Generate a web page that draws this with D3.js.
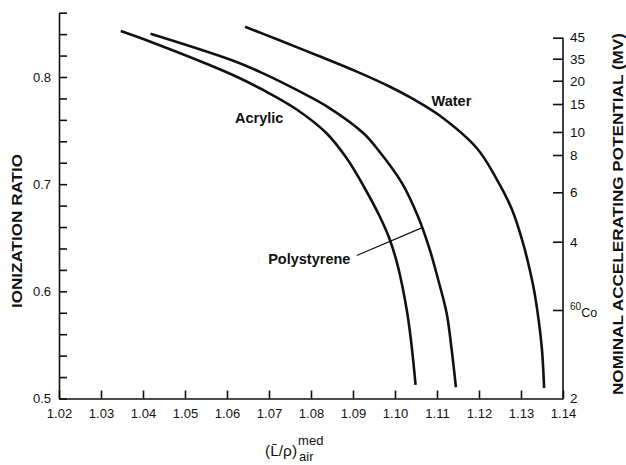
<!DOCTYPE html>
<html>
<head>
<meta charset="utf-8">
<script src="https://cdn.jsdelivr.net/npm/d3@7"></script>
<style>
  body { margin: 0; background: #fff; }
  svg { display: block; font-family: 'Liberation Sans', Arial, sans-serif; }
  .axis path, .axis line { stroke: #111; stroke-width: 1.6; }
  .axis text { fill: #111; font-size: 13px; }
  .curve { fill: none; stroke: #111; stroke-width: 2.6; }
</style>
</head>
<body>
<div class="canvas"></div>
<script>
// Curves: [stopping power ratio, ionization ratio]
const acrylic = [
  [1.0347, 0.8429], [1.0424, 0.8320], [1.0614, 0.8019], [1.0686, 0.7879],
  [1.0766, 0.7697], [1.0837, 0.7475], [1.0885, 0.7241], [1.0926, 0.6976],
  [1.0964, 0.6696], [1.0988, 0.6479], [1.1008, 0.6215], [1.1028, 0.5826],
  [1.1037, 0.5577], [1.1044, 0.5328], [1.1049, 0.5126]
]
const polystyrene = [
  [1.0418, 0.8404], [1.0615, 0.8152], [1.0686, 0.8034], [1.0766, 0.7879],
  [1.0845, 0.7708], [1.0925, 0.7475], [1.0960, 0.7319], [1.1017, 0.7008],
  [1.1055, 0.6696], [1.1083, 0.6386], [1.1103, 0.6106], [1.1123, 0.5795],
  [1.1135, 0.5453], [1.1145, 0.5105]
]
const water = [
  [1.0643, 0.8469], [1.0722, 0.8347], [1.0814, 0.8203], [1.0909, 0.8050],
  [1.0988, 0.7909], [1.1044, 0.7793], [1.1107, 0.7638], [1.1195, 0.7335],
  [1.1242, 0.7048], [1.1278, 0.6768], [1.1305, 0.6448], [1.1321, 0.6199],
  [1.1331, 0.6012], [1.1342, 0.5732], [1.1350, 0.5453], [1.1355, 0.5098]
]

// Axis ticks
const xTickValues = [1.02, 1.03, 1.04, 1.05, 1.06, 1.07, 1.08, 1.09, 1.10, 1.11, 1.12, 1.13, 1.14]
const yTickLabels = [0.5, 0.6, 0.7, 0.8]
const yMinorTicks = [0.5, 0.52, 0.54, 0.56, 0.58, 0.6, 0.62, 0.64, 0.66, 0.68, 0.7,
  0.72, 0.74, 0.76, 0.78, 0.8, 0.82, 0.84, 0.86]
// Right axis: nominal accelerating potential, placed at its ionization ratio
const potentialLabels = ['45', '35', '20', '15', '10', '8', '6', '4', '60Co', '2']
const potentialRatio = [0.8367, 0.8171, 0.7965, 0.7748, 0.7487, 0.7272, 0.6924, 0.6463, 0.5826, 0.5]

// Curve labels [text, x, ratio] and the polystyrene pointer
const curveLabels = [['Acrylic', 1.0619, 0.7573], ['Water', 1.1087, 0.7729], ['Polystyrene', 1.0698, 0.6255]]
const pointer = [[1.0909, 0.6335], [1.1062, 0.6590]]

const width = 626
const height = 465

const svg = d3.select('.canvas')
  .append('svg')
  .attr('width', width)
  .attr('height', height)

// Scales
const x = d3.scaleLinear().domain([1.02, 1.14]).range([59, 563])
const y = d3.scaleLinear().domain([0.5, 0.86]).range([398.5, 12.7])

// Left axis
const yAxisGroup = svg.append('g')
  .attr('class', 'axis')
  .attr('transform', `translate(${x(1.02)}, 0)`)
  .call(d3.axisLeft(y)
    .tickValues(yMinorTicks)
    .tickSize(-8)
    .tickSizeOuter(0)
    .tickPadding(8)
    .tickFormat(d => yTickLabels.some(v => Math.abs(v - d) < 1e-6) ? d3.format('.1f')(d) : ''))

// Bottom axis
const xAxisGroup = svg.append('g')
  .attr('class', 'axis')
  .attr('transform', `translate(0, ${y(0.5)})`)
  .call(d3.axisBottom(x)
    .tickValues(xTickValues)
    .tickSize(-8)
    .tickSizeOuter(0)
    .tickPadding(10)
    .tickFormat(d3.format('.2f')))

// Right axis
const rightAxisGroup = svg.append('g')
  .attr('class', 'axis')
  .attr('transform', `translate(${x(1.14)}, 0)`)
  .call(d3.axisRight(y)
    .tickValues(potentialRatio)
    .tickSize(-10)
    .tickPadding(7)
    .tickFormat((d, i) => potentialLabels[i]))
rightAxisGroup.select('.domain').remove()
rightAxisGroup.append('line')
  .attr('y1', y(0.5))
  .attr('y2', y(potentialRatio[0]))
rightAxisGroup.selectAll('.tick text')
  .style('font-size', '13.5px')
  .each(function(d, i) {
    if (potentialLabels[i] === '60Co') {
      const t = d3.select(this).text('')
      t.append('tspan').text('60').attr('font-size', '10px').attr('dy', '-0.05em')
      t.append('tspan').text('Co').attr('font-size', '12.5px').attr('dy', '0.55em')
    }
  })
rightAxisGroup.selectAll('.tick')
  .filter((d, i) => i === potentialLabels.length - 1)
  .select('line').remove()

// Curves
const line = d3.line()
  .x(d => x(d[0]))
  .y(d => y(d[1]))
  .curve(d3.curveCatmullRom.alpha(0.5))

svg.selectAll('.curve')
  .data([acrylic, polystyrene, water])
  .enter()
  .append('path')
  .attr('class', 'curve')
  .attr('d', line)

// Curve labels
svg.selectAll('.curveLabel')
  .data(curveLabels)
  .enter()
  .append('text')
  .attr('class', 'curveLabel')
  .attr('x', d => x(d[1]))
  .attr('y', d => y(d[2]))
  .attr('font-size', '14.5px')
  .attr('font-weight', 'bold')
  .attr('fill', '#111')
  .text(d => d[0])

svg.append('line')
  .attr('x1', x(pointer[0][0]))
  .attr('y1', y(pointer[0][1]))
  .attr('x2', x(pointer[1][0]))
  .attr('y2', y(pointer[1][1]))
  .attr('stroke', '#111')
  .attr('stroke-width', 1.2)

// Axis titles
svg.append('text')
  .attr('transform', 'translate(21.5, 231) rotate(-90)')
  .attr('text-anchor', 'middle')
  .attr('font-size', '14px')
  .attr('font-weight', 'bold')
  .attr('textLength', 154)
  .attr('lengthAdjust', 'spacingAndGlyphs')
  .attr('fill', '#111')
  .text('IONIZATION RATIO')

svg.append('text')
  .attr('transform', 'translate(622.5, 214) rotate(-90)')
  .attr('text-anchor', 'middle')
  .attr('font-size', '14px')
  .attr('font-weight', 'bold')
  .attr('textLength', 362)
  .attr('lengthAdjust', 'spacingAndGlyphs')
  .attr('fill', '#111')
  .text('NOMINAL ACCELERATING POTENTIAL (MV)')

const xTitle = svg.append('text')
  .attr('x', 265)
  .attr('y', 456)
  .attr('font-size', '15.5px')
  .attr('fill', '#111')
  .text('(L\u0304/\u03c1)')
const xTitleEnd = 265 + xTitle.node().getComputedTextLength() + 1
svg.append('text')
  .attr('x', xTitleEnd)
  .attr('y', 444.5)
  .attr('font-size', '13px')
  .attr('fill', '#111')
  .text('med')
svg.append('text')
  .attr('x', xTitleEnd + 1)
  .attr('y', 461)
  .attr('font-size', '13px')
  .attr('fill', '#111')
  .text('air')
</script>
</body>
</html>
